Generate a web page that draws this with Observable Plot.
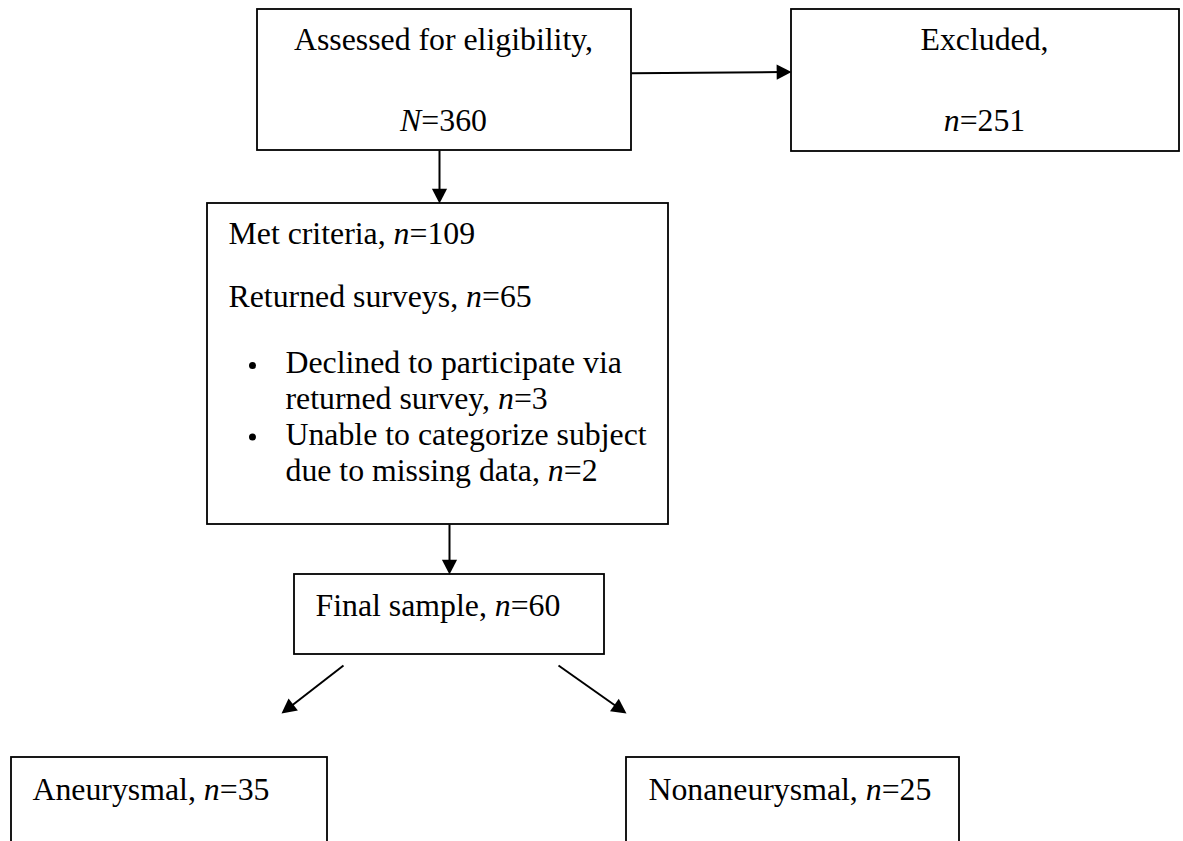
<!DOCTYPE html>
<html><head><meta charset="utf-8">
<script src="https://cdn.jsdelivr.net/npm/d3@7"></script>
<script src="https://cdn.jsdelivr.net/npm/@observablehq/plot@0.6"></script>
<style>html,body{margin:0;padding:0;background:#fff;overflow:hidden}</style>
</head><body><div id="chart"></div>
<script>
// ---- data ----
const stages = ["Assessed for eligibility", "Excluded", "Met criteria", "Returned surveys",
  "Declined to participate via returned survey", "Unable to categorize subject due to missing data",
  "Final sample", "Aneurysmal", "Nonaneurysmal"];
const countSymbols = ["N", "n", "n", "n", "n", "n", "n", "n", "n"];
const counts = [360, 251, 109, 65, 3, 2, 60, 35, 25];

// ---- layout (pixel units, mapped through identity scales) ----
const boxX1 = [257, 791, 207, 294, 11, 626];
const boxX2 = [631, 1179, 668, 604, 327, 959];
const boxY1 = [9, 9, 203, 574, 757, 757];
const boxY2 = [150, 151, 524, 654, 900, 900];

const arrowX1 = [631, 439, 449, 343, 558];
const arrowY1 = [72.7, 150, 524, 665, 665];
const arrowX2 = [791, 439, 449, 281, 626];
const arrowY2 = [71.5, 203, 574, 713, 713];

const bulletX = [252, 252];
const bulletY = [365, 436.5];

const lab = i => `_${countSymbols[i]}_=${counts[i]}`;
const lineText = [
  `${stages[0]},`, lab(0),
  `${stages[1]},`, lab(1),
  `${stages[2]}, ${lab(2)}`,
  `${stages[3]}, ${lab(3)}`,
  "Declined to participate via", `returned survey, ${lab(4)}`,
  "Unable to categorize subject", `due to missing data, ${lab(5)}`,
  `${stages[6]}, ${lab(6)}`,
  `${stages[7]}, ${lab(7)}`,
  `${stages[8]}, ${lab(8)}`
];
const lineX = [443, 443, 984, 984, 228, 228, 285, 285, 285, 285, 315, 32, 648];
const lineY = [49.5, 130.5, 49.5, 130.5, 243.5, 306, 372.7, 408.5, 444.3, 480, 615, 799, 799];
const lineAnchor = ["middle", "middle", "middle", "middle", "start", "start", "start", "start", "start", "start", "start", "start", "start"];

// ---- build ----
const boxes = boxX1.map((_, i) => ({x1: boxX1[i], x2: boxX2[i], y1: boxY1[i], y2: boxY2[i]}));
const HEAD = 7.6; // half-width of arrowhead
const arrows = arrowX1.map((_, i) => {
  const dx = arrowX2[i] - arrowX1[i], dy = arrowY2[i] - arrowY1[i];
  const len = Math.hypot(dx, dy);
  const k = (len - HEAD * 1.2) / len;
  return {x1: arrowX1[i], y1: arrowY1[i], x2: arrowX2[i], y2: arrowY2[i],
    lx2: arrowX1[i] + dx * k, ly2: arrowY1[i] + dy * k,
    angle: Math.atan2(dx, -dy) * 180 / Math.PI};
});
const lines = lineText.map((t, i) => ({t, x: lineX[i], y: lineY[i], a: lineAnchor[i]}));
const bullets = bulletX.map((x, i) => ({x, y: bulletY[i]}));

const headSymbol = {
  draw(ctx, size) {
    const r = Math.sqrt(size / Math.PI);
    ctx.moveTo(0, 0);
    ctx.lineTo(-r, 1.95 * r);
    ctx.lineTo(r, 1.95 * r);
    ctx.closePath();
  }
};

const font = "'Liberation Serif', 'Times New Roman', serif";
const W = 1183, H = 841;
const textOpts = {x: "x", y: "y", text: "t", fontSize: 31.8, fontFamily: font, fill: "black", lineAnchor: "bottom"};

const svg = Plot.plot({
  width: W, height: H,
  margin: 0,
  x: {domain: [0, W], range: [0, W], axis: null},
  y: {domain: [0, H], range: [0, H], axis: null},
  style: {background: "white"},
  marks: [
    Plot.rect(boxes, {x1: "x1", x2: "x2", y1: "y1", y2: "y2", fill: "white", stroke: "black", strokeWidth: 1.8, clip: true}),
    Plot.link(arrows, {x1: "x1", y1: "y1", x2: "lx2", y2: "ly2", stroke: "black", strokeWidth: 2}),
    Plot.dot(arrows, {x: "x2", y: "y2", r: HEAD, symbol: headSymbol, rotate: "angle", fill: "black", stroke: "none"}),
    Plot.dot(bullets, {x: "x", y: "y", r: 3.5, fill: "black", stroke: "none"}),
    Plot.text(lines.filter(d => d.a === "middle"), {...textOpts, textAnchor: "middle"}),
    Plot.text(lines.filter(d => d.a === "start"), {...textOpts, textAnchor: "start"})
  ]
});

// italicise the statistical symbols marked with underscores
svg.querySelectorAll("text").forEach(t => {
  const s = t.textContent;
  if (!s.includes("_")) return;
  t.textContent = "";
  s.split("_").forEach((seg, i) => {
    if (!seg) return;
    const ts = document.createElementNS("http://www.w3.org/2000/svg", "tspan");
    if (i % 2) ts.setAttribute("font-style", "italic");
    ts.textContent = seg;
    t.appendChild(ts);
  });
});

document.getElementById("chart").appendChild(svg);
</script>
</body></html>
